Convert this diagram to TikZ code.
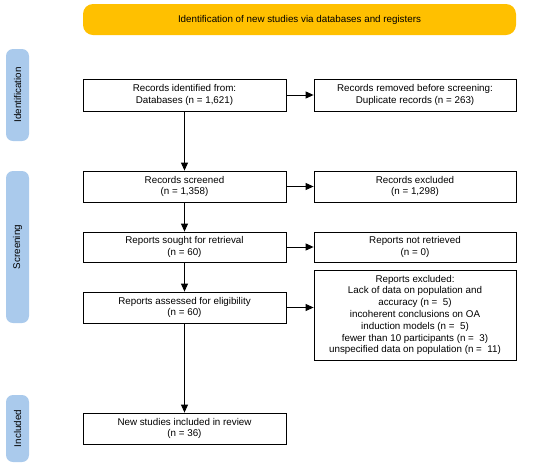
\documentclass[tikz,border=0pt]{standalone}
\usepackage{fontspec}
\setmainfont{Liberation Sans}
\usetikzlibrary{arrows.meta}
\definecolor{banner}{RGB}{255,192,0}
\definecolor{side}{RGB}{170,202,236}
\begin{document}
\begin{tikzpicture}[x=1pt,y=-1pt,
  box/.style={draw=black,line width=0.8pt,fill=white,align=center,font=\fontsize{9.8}{11.8}\selectfont,inner sep=1pt},
  sidebar/.style={fill=side,rounded corners=7pt,font=\fontsize{9.8}{11.8}\selectfont,inner sep=0pt},
  arr/.style={-{Triangle[length=8pt,width=7pt]},line width=0.9pt}]
\useasboundingbox (0,0) rectangle (550,467);
% banner
\node[fill=banner,rounded corners=10pt,minimum width=433pt,minimum height=31pt,font=\fontsize{9.8}{11.8}\selectfont] (ban) at (299.5,19.5) {Identification of new studies via databases and registers};
% sidebars
\node[sidebar,minimum width=92pt,minimum height=23pt,rotate=90] (s1) at (17.5,95) {Identification};
\node[sidebar,minimum width=152pt,minimum height=23pt,rotate=90] (s2) at (17.5,247) {Screening};
\node[sidebar,minimum width=67pt,minimum height=23pt,rotate=90] (s3) at (17.5,428.5) {Included};
% left boxes
\node[box,minimum width=203pt,minimum height=32pt] (a) at (184.5,95) {Records identified from:\\Databases (n = 1,621)};
\node[box,minimum width=203pt,minimum height=31pt] (b) at (184.5,186.5) {Records screened\\(n = 1,358)};
\node[box,minimum width=203pt,minimum height=30pt] (c) at (184.5,247) {Reports sought for retrieval\\(n = 60)};
\node[box,minimum width=203pt,minimum height=31pt] (d) at (184.5,307.5) {Reports assessed for eligibility\\(n = 60)};
\node[box,minimum width=203pt,minimum height=31pt] (e) at (184.5,428.5) {New studies included in review\\(n = 36)};
% right boxes
\node[box,minimum width=202pt,minimum height=32pt] (a2) at (415,95) {Records removed before screening:\\Duplicate records (n = 263)};
\node[box,minimum width=202pt,minimum height=31pt] (b2) at (415,186.5) {Records excluded\\(n = 1,298)};
\node[box,minimum width=202pt,minimum height=30pt] (c2) at (415,247) {Reports not retrieved\\(n = 0)};
\node[box,minimum width=202pt,minimum height=90pt] (d2) at (415,315) {Reports excluded:\\Lack of data on population and\\accuracy (n =~ 5)\\incoherent conclusions on OA\\induction models (n =~ 5)\\fewer than 10 participants (n =~ 3)\\unspecified data on population (n =~ 11)};
% arrows
\draw[arr] (a) -- (b);
\draw[arr] (b) -- (c);
\draw[arr] (c) -- (d);
\draw[arr] (d) -- (e);
\draw[arr] (a) -- (a2);
\draw[arr] (b) -- (b2);
\draw[arr] (c) -- (c2);
\draw[arr] (d.east) -- (d.east -| d2.west);
\end{tikzpicture}
\end{document}
